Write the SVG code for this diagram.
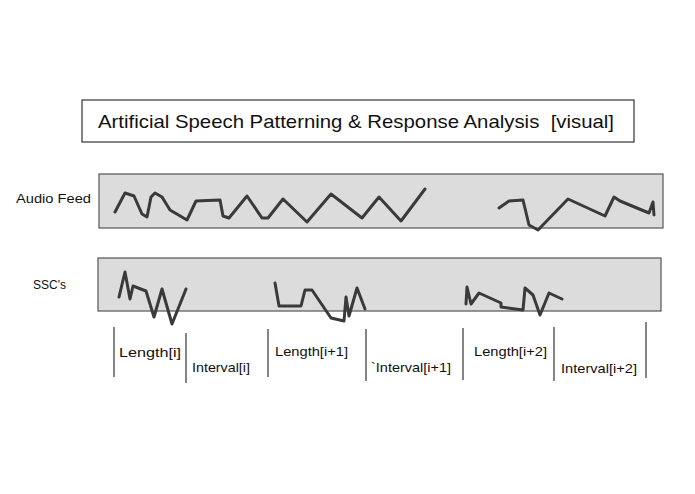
<svg xmlns="http://www.w3.org/2000/svg" width="695" height="494" viewBox="0 0 695 494">
<style>
text{font-family:"Liberation Sans",Arial,sans-serif;fill:#111}
.band{fill:#dcdcdc;stroke:#555;stroke-width:1.2}
.w{fill:none;stroke:#3a3a3a;stroke-width:3;stroke-linejoin:round;stroke-linecap:round}
.t{stroke:#333;stroke-width:1.2}
.lb{font-size:13px}
</style>
<rect width="695" height="494" fill="#fff"/>
<g id="title"><rect x="82" y="100" width="552" height="42" fill="#fff" stroke="#333" stroke-width="1.2"/>
<text x="98" y="128" font-size="19" textLength="516" lengthAdjust="spacingAndGlyphs" xml:space="preserve">Artificial Speech Patterning &amp; Response Analysis  [visual]</text></g>
<g id="audio">
<text x="16" y="203" font-size="12.5" textLength="75" lengthAdjust="spacingAndGlyphs">Audio Feed</text>
<rect class="band" x="99" y="174" width="564" height="54"/>
<polyline class="w" points="115,212 125,193 134,196 142,214 147,217 151,197 155,193 162,197 170,210 187,220 196,201 220,200 223,216 229,218 247,196 262,218 268,218 283,199 307,222 331,194 362,218 379,197 401,221 425,189"/>
<polyline class="w" points="499,208 509,201 523,200 529,225 538,230 568,199 605,216 614,197 620,201 649,213 653,202 654,215"/>
</g>
<g id="ssc">
<text x="33" y="289" font-size="12.5" textLength="33" lengthAdjust="spacingAndGlyphs">SSC's</text>
<rect class="band" x="98" y="258" width="563" height="53"/>
<polyline class="w" points="119,297 125,272 130,299 133,286 146,291 154,317 162,289 172,324 186,289"/>
<polyline class="w" points="275,283 279,306 301,306 305,290 312,290 331,318 344,321 346,297 349,316 357,288 365,309"/>
<polyline class="w" points="466,304 467,287 471,304 479,293 501,303 501,307 523,310 525,288 533,295 540,315 549,293 562,299"/>
</g>
<g id="timeline">
<line class="t" x1="114" y1="327" x2="114" y2="377"/>
<line class="t" x1="186" y1="333" x2="186" y2="383"/>
<line class="t" x1="268" y1="329" x2="268" y2="377"/>
<line class="t" x1="366" y1="329" x2="366" y2="381"/>
<line class="t" x1="463" y1="328" x2="463" y2="380"/>
<line class="t" x1="554" y1="327" x2="554" y2="381"/>
<line class="t" x1="646" y1="322" x2="646" y2="378"/>
<text class="lb" x="119" y="357" textLength="62" lengthAdjust="spacingAndGlyphs">Length[i]</text>
<text class="lb" x="192" y="372" textLength="58" lengthAdjust="spacingAndGlyphs">Interval[i]</text>
<text class="lb" x="275" y="356" textLength="73" lengthAdjust="spacingAndGlyphs">Length[i+1]</text>
<text class="lb" x="371" y="372" textLength="80" lengthAdjust="spacingAndGlyphs">`Interval[i+1]</text>
<text class="lb" x="474" y="356" textLength="73" lengthAdjust="spacingAndGlyphs">Length[i+2]</text>
<text class="lb" x="561" y="373" textLength="76" lengthAdjust="spacingAndGlyphs">Interval[i+2]</text>
</g>
</svg>
